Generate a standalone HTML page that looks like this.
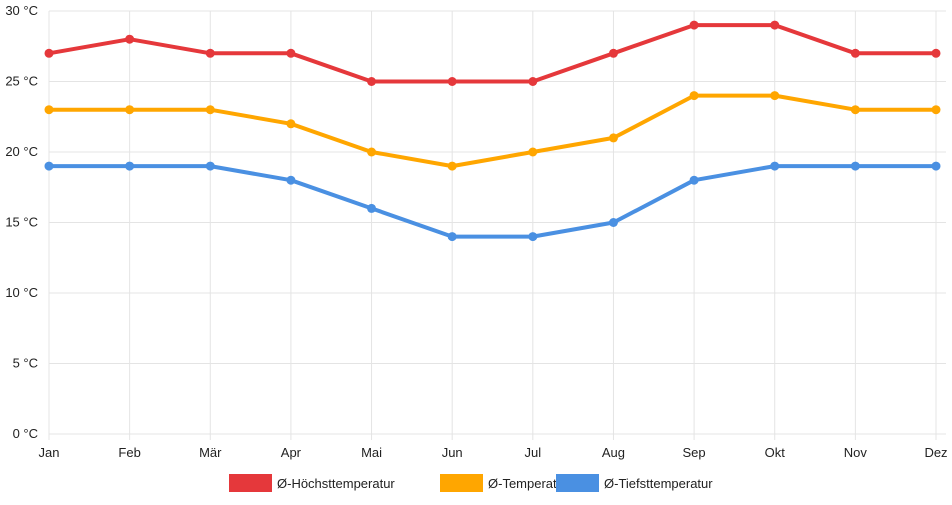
<!DOCTYPE html>
<html><head><meta charset="utf-8"><style>
body{margin:0;background:#fff;font-family:"Liberation Sans",sans-serif;}
svg text{font-family:"Liberation Sans",sans-serif;font-size:13px;fill:#222;}
</style></head><body>
<svg id="chart" width="952" height="500" xmlns="http://www.w3.org/2000/svg">
<g id="grid"></g>
<g id="axes"></g>
<g id="series"></g>
<g id="legend"></g>
</svg>
<script>
const categories=["Jan","Feb","Mär","Apr","Mai","Jun","Jul","Aug","Sep","Okt","Nov","Dez"];
const highValues=[27,28,27,27,25,25,25,27,29,29,27,27];
const avgValues=[23,23,23,22,20,19,20,21,24,24,23,23];
const lowValues=[19,19,19,18,16,14,14,15,18,19,19,19];
const yTicks=[0,5,10,15,20,25,30];
const seriesNames=["Ø-Höchsttemperatur","Ø-Temperatur","Ø-Tiefsttemperatur"];
const colors=["#e5383b","#ffa600","#4a90e2"];
const NS="http://www.w3.org/2000/svg";
const x0=49,x1=936,yTop=11,yBot=434;
const xs=i=>x0+i*(x1-x0)/(categories.length-1);
const ys=v=>yBot-(v/30)*(yBot-yTop);
function mk(t,a,p){const e=document.createElementNS(NS,t);for(const k in a)e.setAttribute(k,a[k]);p.appendChild(e);return e;}
const grid=document.getElementById('grid'),axes=document.getElementById('axes'),ser=document.getElementById('series'),leg=document.getElementById('legend');
yTicks.forEach(v=>{
 const l=mk('line',{x1:x0,x2:x1+10,y1:ys(v),y2:ys(v),stroke:'#e4e4e4','stroke-width':1},grid);
 
 const t=mk('text',{x:38,y:ys(v)+4,'text-anchor':'end'},axes);t.textContent=v+' °C';
 
});
categories.forEach((c,i)=>{
 const l=mk('line',{x1:xs(i),x2:xs(i),y1:yTop,y2:yBot+6,stroke:'#e4e4e4','stroke-width':1},grid);
 
 const t=mk('text',{x:xs(i),y:457,'text-anchor':'middle'},axes);t.textContent=c;
 
});
[highValues,avgValues,lowValues].forEach((vals,s)=>{
 const g=mk('g',{},ser);
 
 const p=mk('polyline',{points:vals.map((v,i)=>xs(i)+','+ys(v)).join(' '),fill:'none',stroke:colors[s],'stroke-width':4,'stroke-linejoin':'round'},g);
 
 vals.forEach((v,i)=>{const c=mk('circle',{cx:xs(i),cy:ys(v),r:4.5,fill:colors[s]},g);
  });
});
const legX=[229,440,556];
seriesNames.forEach((n,s)=>{
 const g=mk('g',{},leg);
 
 mk('rect',{x:legX[s],y:474,width:43,height:18,fill:colors[s]},g);
 const t=mk('text',{x:legX[s]+48,y:488},g);t.textContent=n;
});
</script>
</body></html>
